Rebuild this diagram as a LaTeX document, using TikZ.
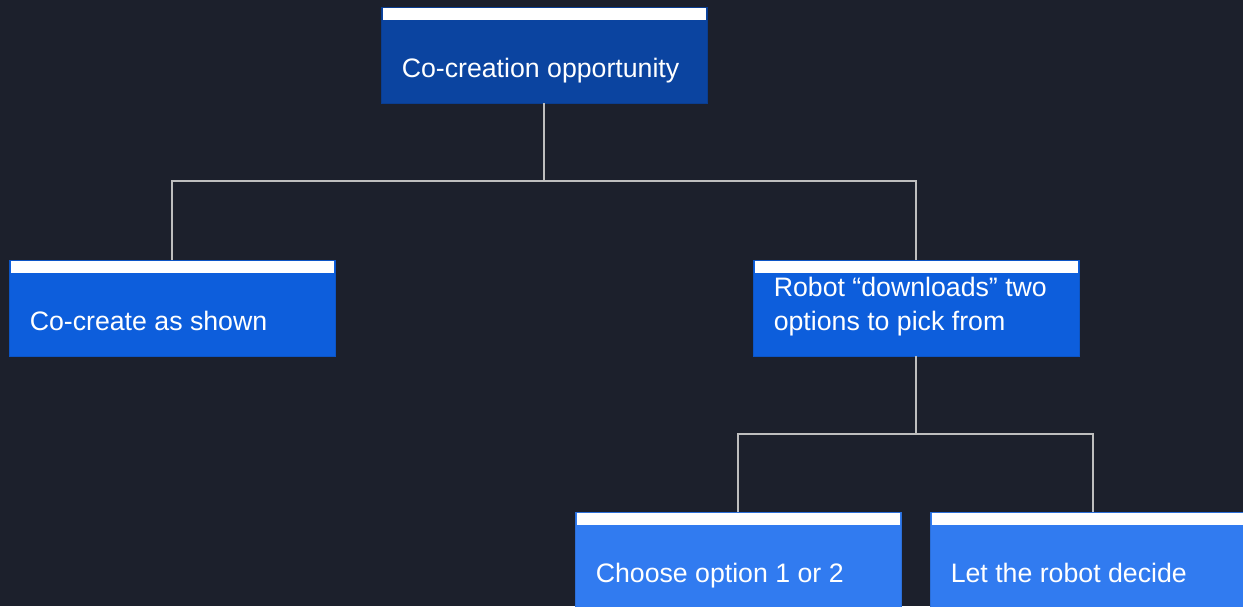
\documentclass[tikz,border=0pt]{standalone}
\usepackage{fontspec}
\setmainfont{Liberation Sans}
\definecolor{bg}{RGB}{28,32,44}
\definecolor{lvA}{RGB}{11,68,160}
\definecolor{lvB}{RGB}{13,94,220}
\definecolor{lvC}{RGB}{49,123,240}
\definecolor{conncol}{RGB}{190,190,190}
\tikzset{
  box/.style={rectangle, minimum width=326pt, minimum height=96pt, inner sep=0pt, draw=#1!90!black, line width=0.8pt, fill=#1,
    path picture={\fill[white] ([xshift=1.5pt,yshift=-1pt]path picture bounding box.north west) rectangle ([xshift=-1.5pt,yshift=-13pt]path picture bounding box.north east);}},
  txt/.style={anchor=base west, inner sep=0pt, text=white, font=\fontsize{26.7}{32}\selectfont, align=left},
  conn/.style={draw=conncol, line width=1.6pt}
}
\begin{document}
\begin{tikzpicture}[x=1pt,y=-1pt]
\useasboundingbox (0,0) rectangle (1243,606);
\fill[bg] (0,0) rectangle (1243,606);
\node[box=lvA] (top) at (544,55) {};
\node[box=lvB] (l2a) at (172,308) {};
\node[box=lvB] (l2b) at (916,308) {};
\node[box=lvC] (l3a) at (738,560) {};
\node[box=lvC] (l3b) at (1093,560) {};
\coordinate (j1) at (544,181);
\coordinate (j2) at (916,434);
\draw[conn] (top.south) -- (j1);
\draw[conn] (l2a.north) |- (j1) -| (l2b.north);
\draw[conn] (l2b.south) -- (j2);
\draw[conn] (l3a.north) |- (j2) -| (l3b.north);
\node[txt] (ttop) at ([xshift=21pt,yshift=-71pt]top.north west) {Co-creation opportunity};
\node[txt] (tl2a) at ([xshift=21pt,yshift=-71pt]l2a.north west) {Co-create as shown};
\node[txt] (tl2b1) at ([xshift=21pt,yshift=-37pt]l2b.north west) {Robot “downloads” two};
\node[txt] (tl2b2) at ([xshift=21pt,yshift=-71pt]l2b.north west) {options to pick from};
\node[txt] (tl3a) at ([xshift=21pt,yshift=-71pt]l3a.north west) {Choose option 1 or 2};
\node[txt] (tl3b) at ([xshift=21pt,yshift=-71pt]l3b.north west) {Let the robot decide};
\end{tikzpicture}
\end{document}
